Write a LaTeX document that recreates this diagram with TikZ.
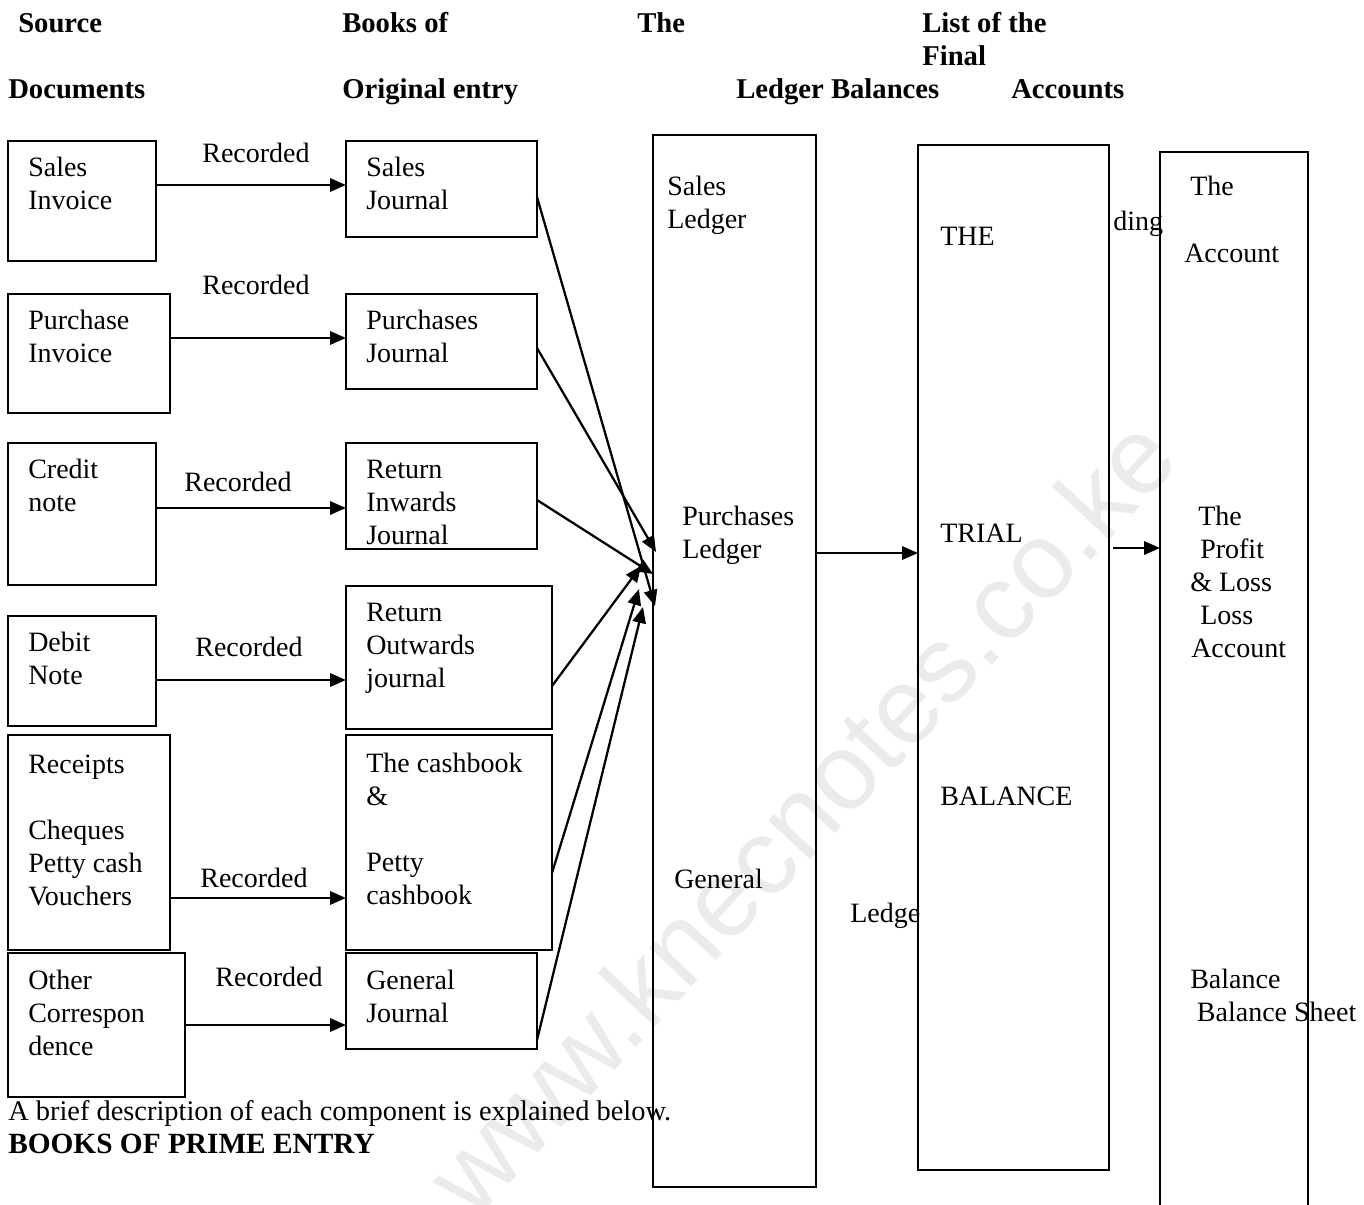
\documentclass[tikz,border=0pt]{standalone}
\usepackage{fontspec}
\setmainfont{Liberation Serif}
\newfontfamily\wmfont{Liberation Sans}
\usetikzlibrary{arrows.meta,fit}
\begin{document}
\begin{tikzpicture}[x=0.75pt,y=-0.75pt,
  bx/.style={draw,line width=1.4pt,inner sep=0pt,outer sep=0pt,fit={#1}},
  arr/.style={line width=1.7pt,-{Triangle[length=12pt,width=10pt]}},
  txt/.style={anchor=north west,align=left,inner sep=0pt,font=\fontsize{21}{24.75}\selectfont},
  rec/.style={anchor=base,inner sep=0pt,font=\fontsize{21}{24.75}\selectfont},
  hd/.style={anchor=base west,inner sep=0pt,font=\bfseries\fontsize{21.5}{24}\selectfont}]
\useasboundingbox (0,0) rectangle (1364,1204);
\clip (0,0) rectangle (1364,1204);
% watermark
\node[rotate=47,text=black!8,inner sep=0pt,font=\wmfont\fontsize{81}{81}\selectfont] (wm) at (800,815) {www.knecnotes.co.ke};
% headers
\node[hd] (h1) at (18,32) {Source};
\node[hd] (h2) at (8,98) {Documents};
\node[hd] (h3) at (342,32) {Books of};
\node[hd] (h4) at (342,98) {Original entry};
\node[hd] (h5) at (637,32) {The};
\node[hd] (h6) at (922,32) {List of the};
\node[hd] (h7) at (922,65) {Final};
\node[hd] (h8) at (736,98) {Ledger Balances};
\node[hd] (h9) at (1011,98) {Accounts};
% source document boxes
\node[bx={(8,141)(156,261)}] (sinv) {};
\node[bx={(8,294)(170,413)}] (pinv) {};
\node[bx={(8,443)(156,585)}] (cred) {};
\node[bx={(8,616)(156,726)}] (deb) {};
\node[bx={(8,735)(170,950)}] (rcpt) {};
\node[bx={(8,953)(185,1097)}] (oth) {};
\node[txt] (tsinv) at (28,153) {\strut Sales\\Invoice};
\node[txt] (tpinv) at (28,306) {\strut Purchase\\Invoice};
\node[txt] (tcred) at (28,455) {\strut Credit\\note};
\node[txt] (tdeb) at (28,628) {\strut Debit\\Note};
\node[txt] (trcpt) at (28,750) {\strut Receipts\\\mbox{}\\Cheques\\Petty cash\\Vouchers};
\node[txt] (toth) at (28,966) {\strut Other\\Correspon\\dence};
% journal boxes
\node[bx={(346,141)(537,237)}] (sj) {};
\node[bx={(346,294)(537,389)}] (pj) {};
\node[bx={(346,443)(537,549)}] (ri) {};
\node[bx={(346,586)(552,729)}] (ro) {};
\node[bx={(346,735)(552,950)}] (cb) {};
\node[bx={(346,953)(537,1049)}] (gj) {};
\node[txt] (tsj) at (366,153) {\strut Sales\\Journal};
\node[txt] (tpj) at (366,306) {\strut Purchases\\Journal};
\node[txt] (tri) at (366,455) {\strut Return\\Inwards\\Journal};
\node[txt] (tro) at (366,598) {\strut Return\\Outwards\\journal};
\node[txt] (tcb) at (366,749) {\strut The cashbook\\\&\\\mbox{}\\Petty\\cashbook};
\node[txt] (tgj) at (366,966) {\strut General\\Journal};
% recorded labels
\node[rec] (r1l) at (256,162) {Recorded};
\node[rec] (r2l) at (256,294) {Recorded};
\node[rec] (r3l) at (238,491) {Recorded};
\node[rec] (r4l) at (249,656) {Recorded};
\node[rec] (r5l) at (254,887) {Recorded};
\node[rec] (r6l) at (269,986) {Recorded};
% horizontal arrows
\coordinate (y1) at (0,185);
\coordinate (y2) at (0,338);
\coordinate (y3) at (0,508);
\coordinate (y4) at (0,680);
\coordinate (y5) at (0,898);
\coordinate (y6) at (0,1025);
\draw[arr] (sinv.east |- y1) -- (sj.west |- y1);
\draw[arr] (pinv.east |- y2) -- (pj.west |- y2);
\draw[arr] (cred.east |- y3) -- (ri.west |- y3);
\draw[arr] (deb.east |- y4) -- (ro.west |- y4);
\draw[arr] (rcpt.east |- y5) -- (cb.west |- y5);
\draw[arr] (oth.east |- y6) -- (gj.west |- y6);
% ledger, trial balance and final accounts columns
\node[bx={(653,135)(816,1187)}] (led) {};
\node[bx={(918,145)(1109,1170)}] (tb) {};
\node[bx={(1160,152)(1308,1230)}] (fa) {};
\node[txt] (tsl) at (667,172) {\strut Sales\\Ledger};
\node[txt] (tpl) at (682,502) {\strut Purchases\\Ledger};
\node[txt] (tgl) at (674,865) {\strut General};
\node[txt] (tlg) at (850,899) {\strut Ledge};
\node[txt] (tthe) at (940,222) {\strut THE};
\node[txt] (ttr) at (940,519) {\strut TRIAL};
\node[txt] (tbal) at (940,782) {\strut BALANCE};
\node[txt] (tdg) at (1113,207) {\strut ding};
\node[txt] (tfa1) at (1190,172) {\strut The};
\node[txt] (tfa2) at (1184,239) {\strut Account};
\node[txt] (tpl2) at (1190,502) {\strut \hspace*{6pt}The\\\hspace*{7.5pt}Profit\\\& Loss\\\hspace*{7.5pt}Loss\\\hspace*{0.75pt}Account};
\node[txt] (tbs) at (1190,965) {\strut Balance\\\hspace*{5pt}Balance Sheet};
% converging arrows into the ledger
\coordinate (d1) at (0,197);
\coordinate (d2) at (0,348);
\coordinate (d3) at (0,500);
\coordinate (d4) at (0,686);
\coordinate (d5) at (0,873);
\coordinate (d6) at (0,1040);
\coordinate (t1) at (655,606);
\coordinate (t2) at (656,552);
\coordinate (t3) at (653,574);
\coordinate (t4) at (641,566);
\coordinate (t5) at (639,589);
\coordinate (t6) at (643,607);
\draw[arr] (sj.east |- d1) -- (t1);
\draw[arr] (pj.east |- d2) -- (t2);
\draw[arr] (ri.east |- d3) -- (t3);
\draw[arr] (ro.east |- d4) -- (t4);
\draw[arr] (cb.east |- d5) -- (t5);
\draw[arr] (gj.east |- d6) -- (t6);
\coordinate (m1) at (0,553);
\coordinate (m2) at (0,548);
\draw[arr] (led.east |- m1) -- (tb.west |- m1);
\draw[arr] ([xshift=3pt]tb.east |- m2) -- (fa.west |- m2);
% text below
\node[anchor=base west,inner sep=0pt,font=\fontsize{21.3}{24.75}\selectfont] (desc) at (8,1120) {A brief description of each component is explained below.};
\node[anchor=base west,inner sep=0pt,font=\bfseries\fontsize{22}{25}\selectfont] (bpe) at (8,1153) {BOOKS OF PRIME ENTRY};
\end{tikzpicture}
\end{document}
